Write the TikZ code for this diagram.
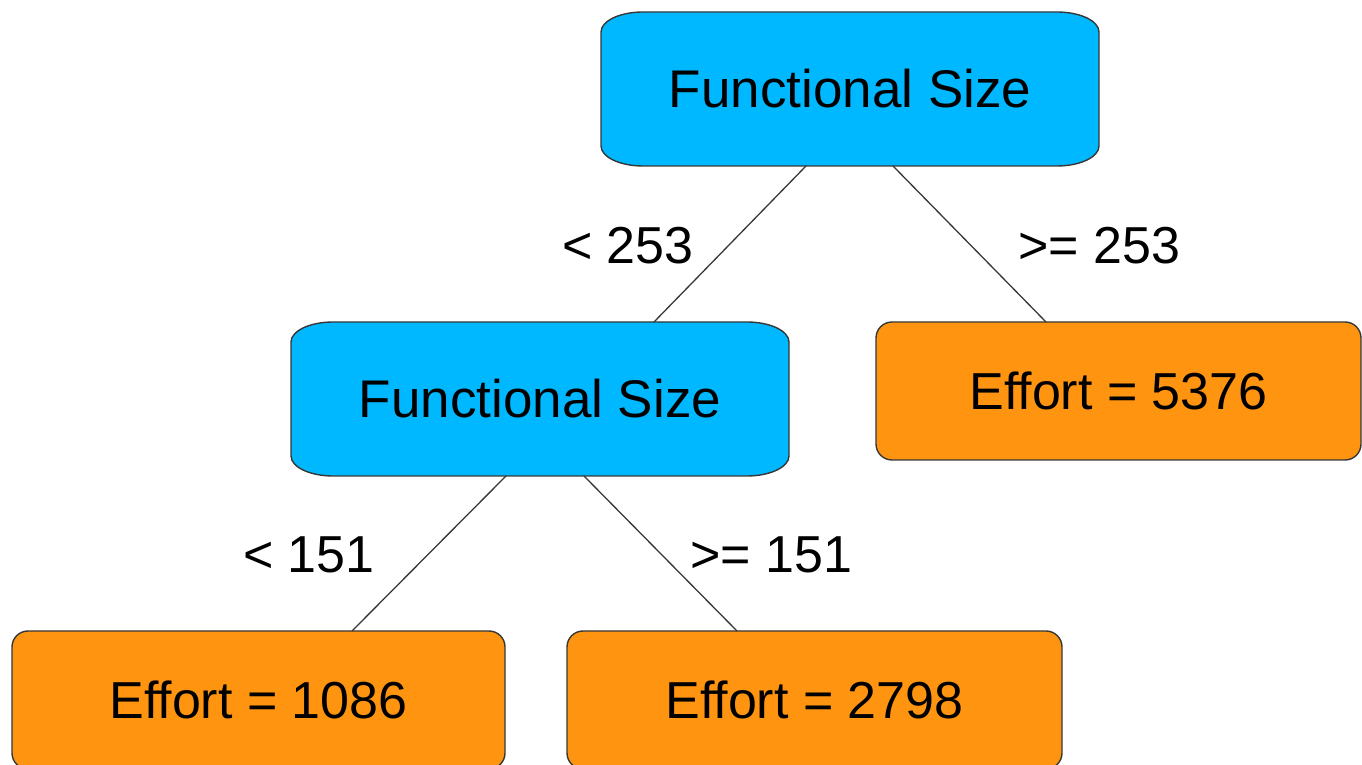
\documentclass[tikz,border=0pt]{standalone}
\usepackage{fontspec}
\setmainfont{Liberation Sans}
\usetikzlibrary{calc,backgrounds}
\definecolor{splitblue}{RGB}{0,184,255}
\definecolor{leaforange}{RGB}{254,148,16}
\definecolor{edgegray}{RGB}{55,55,55}
\tikzset{
  splitnode/.style={inner sep=0pt, outer sep=0pt, minimum width=498pt, minimum height=154pt,
    font=\fontsize{53}{60}\selectfont},
  leafnode/.style={draw=edgegray, line width=1.4pt, fill=leaforange, rounded corners=16pt,
    inner sep=0pt, outer sep=0pt, minimum height=138pt, font=\fontsize{52}{60}\selectfont},
  branch/.style={draw=edgegray, line width=1.3pt},
  cond/.style={font=\fontsize{52}{60}\selectfont, inner sep=0pt},
}
% box with elliptical corners behind a split node
\newcommand{\ellipticbox}[1]{%
  \begin{pgfonlayer}{background}
    \path[fill=splitblue, draw=edgegray, line width=1.4pt]
      ($(#1.south west)+(0,20)$) -- ($(#1.north west)+(0,-20)$)
      arc[start angle=180, end angle=90, x radius=42, y radius=20]
      -- ($(#1.north east)+(-42,0)$)
      arc[start angle=90, end angle=0, x radius=42, y radius=20]
      -- ($(#1.south east)+(0,20)$)
      arc[start angle=0, end angle=-90, x radius=42, y radius=20]
      -- ($(#1.south west)+(42,0)$)
      arc[start angle=270, end angle=180, x radius=42, y radius=20]
      -- cycle;
  \end{pgfonlayer}}
\begin{document}
\begin{tikzpicture}[x=1pt, y=1pt]
  \useasboundingbox (0,0) rectangle (1362,765);

  \node[splitnode] (root) at (850,676) {Functional Size};
  \node[splitnode] (mid) at (540,366) {Functional Size};
  \ellipticbox{root}
  \ellipticbox{mid}

  \node[leafnode, minimum width=485pt] (big) at (1118.5,374) {Effort = 5376};
  \node[leafnode, minimum width=493pt] (small) at (258.5,65) {Effort = 1086};
  \node[leafnode, minimum width=495pt] (medium) at (814.5,65) {Effort = 2798};

  \draw[branch] ([xshift=-44pt]root.south) -- ([xshift=114pt]mid.north);
  \draw[branch] ([xshift=43pt]root.south) -- ([xshift=-72.5pt]big.north);
  \draw[branch] ([xshift=-34pt]mid.south) -- ([xshift=93.5pt]small.north);
  \draw[branch] ([xshift=44pt]mid.south) -- ([xshift=-77.5pt]medium.north);

  \node[cond] (lt253) at (628,519) {< 253};
  \node[cond] (ge253) at (1099,519) {>= 253};
  \node[cond] (lt151) at (309,210) {< 151};
  \node[cond] (ge151) at (771,210) {>= 151};
\end{tikzpicture}
\end{document}
